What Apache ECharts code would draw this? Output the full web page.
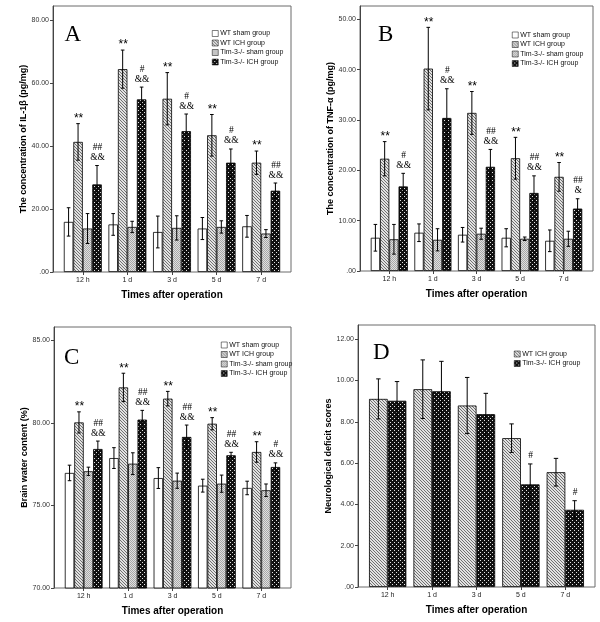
<!DOCTYPE html>
<html>
<head>
<meta charset="utf-8">
<script src="https://cdn.jsdelivr.net/npm/echarts@6/dist/echarts.min.js"></script>
<style>
html, body { margin: 0; padding: 0; background: #fff; }
#main { width: 600px; height: 622px; }
</style>
</head>
<body>
<div id="main"></div>
<script>
// categories
var times = ['12 h', '1 d', '3 d', '5 d', '7 d'];

// A: IL-1β (pg/mg), mean and SD
var aWtSham = [15.9, 15.1, 12.7, 13.8, 14.5];
var aWtShamSd = [4.5, 3.45, 5.05, 3.5, 3.45];
var aWtIch = [41.3, 64.4, 55.0, 43.4, 34.7];
var aWtIchSd = [5.8, 6.05, 8.3, 6.6, 3.7];
var aTimSham = [13.8, 14.3, 14.0, 14.3, 12.2];
var aTimShamSd = [4.75, 1.8, 3.85, 1.95, 1.25];
var aTimIch = [27.8, 54.8, 44.7, 34.7, 25.8];
var aTimIchSd = [6.0, 3.9, 5.45, 4.35, 2.45];
var aWtIchSig = ['**', '**', '**', '**', '**'];
var aTimIchSig = ['##\n&&', '#\n&&', '#\n&&', '#\n&&', '##\n&&'];
var aTicks = [0, 20, 40, 60, 80];

// B: TNF-α (pg/mg)
var bWtSham = [6.6, 7.6, 7.2, 6.6, 6.0];
var bWtShamSd = [2.65, 1.75, 1.45, 1.8, 2.15];
var bWtIch = [22.3, 40.2, 31.4, 22.4, 18.7];
var bWtIchSd = [3.4, 8.2, 4.25, 4.15, 2.85];
var bTimSham = [6.3, 6.2, 7.4, 6.4, 6.4];
var bTimShamSd = [2.95, 2.2, 1.1, 0.35, 1.5];
var bTimIch = [16.8, 30.4, 20.7, 15.5, 12.4];
var bTimIchSd = [2.6, 5.8, 3.45, 3.4, 1.95];
var bWtIchSig = ['**', '**', '**', '**', '**'];
var bTimIchSig = ['#\n&&', '#\n&&', '##\n&&', '##\n&&', '##\n&'];
var bTicks = [0, 10, 20, 30, 40, 50];

// C: brain water content (%)
var cWtSham = [76.97, 77.87, 76.66, 76.2, 76.06];
var cWtShamSd = [0.47, 0.63, 0.63, 0.39, 0.41];
var cWtIch = [80.03, 82.15, 81.47, 79.95, 78.24];
var cWtIchSd = [0.64, 0.86, 0.44, 0.37, 0.62];
var cTimSham = [77.07, 77.53, 76.5, 76.32, 75.92];
var cTimShamSd = [0.25, 0.66, 0.46, 0.52, 0.38];
var cTimIch = [78.42, 80.2, 79.15, 78.04, 77.33];
var cTimIchSd = [0.48, 0.56, 0.72, 0.18, 0.25];
var cWtIchSig = ['**', '**', '**', '**', '**'];
var cTimIchSig = ['##\n&&', '##\n&&', '##\n&&', '##\n&&', '#\n&&'];
var cTicks = [70, 75, 80, 85];

// D: neurological deficit scores
var dWtIch = [9.11, 9.58, 8.79, 7.21, 5.56];
var dWtIchSd = [0.97, 1.42, 1.36, 0.69, 0.67];
var dTimIch = [9.02, 9.48, 8.37, 4.97, 3.74];
var dTimIchSd = [0.93, 1.45, 1.01, 0.99, 0.44];
var dTimIchSig = ['', '', '', '#', '#'];
var dTicks = [0, 2, 4, 6, 8, 10, 12];

var NAME_WT_SHAM = 'WT sham group';
var NAME_WT_ICH = 'WT ICH group';
var NAME_TIM_SHAM = 'Tim-3-/- sham group';
var NAME_TIM_ICH = 'Tim-3-/- ICH group';

function makePattern(size, draw) {
	var c = document.createElement('canvas');
	c.width = size;
	c.height = size;
	draw(c.getContext('2d'));
	return { image: c, repeat: 'repeat' };
}
// diagonal hatch
var hatchFill = makePattern(3, function (ctx) {
	ctx.fillStyle = '#e2e2e2';
	ctx.fillRect(0, 0, 3, 3);
	ctx.fillStyle = '#707070';
	for (var i = 0; i < 3; i++) ctx.fillRect(i, i, 1, 1);
});
// light grey crosshatch
var greyFill = makePattern(2, function (ctx) {
	ctx.fillStyle = '#e0e0e0';
	ctx.fillRect(0, 0, 2, 2);
	ctx.fillStyle = '#a8a8a8';
	ctx.fillRect(0, 0, 1, 1);
	ctx.fillRect(1, 1, 1, 1);
});
// black with white dots
var dotFill = makePattern(4, function (ctx) {
	ctx.fillStyle = '#111';
	ctx.fillRect(0, 0, 4, 4);
	ctx.fillStyle = '#e4e4e4';
	ctx.fillRect(0, 0, 1, 1);
	ctx.fillRect(2, 2, 1, 1);
});

var panels = [
	{
		frame: { left: 53, top: 6, width: 238, height: 266 }, min: 0, max: 84.44, ticks: aTicks,
		yName: 'The concentration of IL-1\u03b2 (pg/mg)', yNameGap: 23, letter: 'A', lx: 64.5, ly: 23,
		legend: { left: 212, top: 30 }, gap: 0.15,
		groups: [
			{ name: NAME_WT_SHAM, data: aWtSham, sd: aWtShamSd, fill: '#fff' },
			{ name: NAME_WT_ICH, data: aWtIch, sd: aWtIchSd, fill: hatchFill, sig: aWtIchSig },
			{ name: NAME_TIM_SHAM, data: aTimSham, sd: aTimShamSd, fill: greyFill },
			{ name: NAME_TIM_ICH, data: aTimIch, sd: aTimIchSd, fill: dotFill, sig: aTimIchSig }
		]
	},
	{
		frame: { left: 360, top: 6, width: 233, height: 265 }, min: 0, max: 52.64, ticks: bTicks,
		yName: 'The concentration of TNF-\u03b1 (pg/mg)', yNameGap: 23, letter: 'B', lx: 378, ly: 23,
		legend: { left: 512, top: 31.5 }, gap: 0.15,
		groups: [
			{ name: NAME_WT_SHAM, data: bWtSham, sd: bWtShamSd, fill: '#fff' },
			{ name: NAME_WT_ICH, data: bWtIch, sd: bWtIchSd, fill: hatchFill, sig: bWtIchSig },
			{ name: NAME_TIM_SHAM, data: bTimSham, sd: bTimShamSd, fill: greyFill },
			{ name: NAME_TIM_ICH, data: bTimIch, sd: bTimIchSd, fill: dotFill, sig: bTimIchSig }
		]
	},
	{
		frame: { left: 54, top: 327, width: 237, height: 261 }, min: 70, max: 85.81, ticks: cTicks,
		yName: 'Brain water content (%)', yNameGap: 25, letter: 'C', lx: 64, ly: 346,
		legend: { left: 221, top: 341.5 }, gap: 0.15,
		groups: [
			{ name: NAME_WT_SHAM, data: cWtSham, sd: cWtShamSd, fill: '#fff' },
			{ name: NAME_WT_ICH, data: cWtIch, sd: cWtIchSd, fill: hatchFill, sig: cWtIchSig },
			{ name: NAME_TIM_SHAM, data: cTimSham, sd: cTimShamSd, fill: greyFill },
			{ name: NAME_TIM_ICH, data: cTimIch, sd: cTimIchSd, fill: dotFill, sig: cTimIchSig }
		]
	},
	{
		frame: { left: 358, top: 325, width: 237, height: 262 }, min: 0, max: 12.69, ticks: dTicks,
		yName: 'Neurological deficit scores', yNameGap: 25, letter: 'D', lx: 373, ly: 341,
		legend: { left: 514, top: 350.5 }, gap: 0.16,
		groups: [
			{ name: NAME_WT_ICH, data: dWtIch, sd: dWtIchSd, fill: hatchFill },
			{ name: NAME_TIM_ICH, data: dTimIch, sd: dTimIchSd, fill: dotFill, sig: dTimIchSig }
		]
	}
];

var PAD = 7.5;
var axisFont = 'Liberation Sans';

function fmtTick(v) {
	return v === 0 ? '.00' : v.toFixed(2);
}

function errRenderer(k, n, gapRatio, sig) {
	return function (params, api) {
		var i = api.value(0);
		var lo = api.coord([i, api.value(1)]);
		var hi = api.coord([i, api.value(2)]);
		var band = api.size([1, 0])[0];
		var bw = band * (1 - gapRatio) / n;
		var x = lo[0] + (k - (n - 1) / 2) * bw;
		var cap = n > 2 ? 1.8 : 2.2;
		var st = { stroke: '#000', lineWidth: 1 };
		var kids = [
			{ type: 'line', shape: { x1: x, y1: lo[1], x2: x, y2: hi[1] }, style: st },
			{ type: 'line', shape: { x1: x - cap, y1: hi[1], x2: x + cap, y2: hi[1] }, style: st },
			{ type: 'line', shape: { x1: x - cap, y1: lo[1], x2: x + cap, y2: lo[1] }, style: st }
		];
		var s = sig ? sig[params.dataIndex] : '';
		if (s) {
			var star = s.indexOf('*') >= 0;
			kids.push({
				type: 'text',
				style: {
					text: s, x: x + 0.5, y: star ? hi[1] + 1 : hi[1] - 3,
					align: 'center', verticalAlign: 'bottom',
					fontSize: star ? 12 : 9.5, lineHeight: star ? 12 : 10,
					fontFamily: star ? 'Liberation Sans' : 'Liberation Serif',
					fill: '#000'
				}
			});
		}
		return { type: 'group', children: kids };
	};
}

var grids = [], xAxes = [], yAxes = [], series = [], legends = [], graphics = [];

panels.forEach(function (p, pi) {
	var f = p.frame;
	grids.push({ left: f.left, top: f.top, width: f.width, height: f.height, show: true, borderColor: '#6a6a6a', borderWidth: 1 });
	grids.push({ left: f.left + PAD, top: f.top, width: f.width - 2 * PAD, height: f.height });

	xAxes.push({ type: 'value', gridIndex: 2 * pi, min: 0, max: 1, show: false });
	xAxes.push({
		type: 'category', gridIndex: 2 * pi + 1, data: times,
		axisLine: { show: false },
		axisTick: { show: true, alignWithLabel: true, length: 3, lineStyle: { color: '#444' } },
		axisLabel: { fontSize: 7, margin: 5, color: '#222', fontFamily: axisFont },
		name: 'Times after operation', nameLocation: 'middle', nameGap: 18,
		nameTextStyle: { fontSize: 10, fontWeight: 'bold', color: '#000', fontFamily: axisFont }
	});

	yAxes.push({
		type: 'value', gridIndex: 2 * pi, min: p.min, max: p.max,
		axisLine: { show: true, lineStyle: { color: '#444' } },
		axisTick: { show: true, length: 3, customValues: p.ticks, lineStyle: { color: '#444' } },
		axisLabel: { customValues: p.ticks, formatter: fmtTick, fontSize: 7, margin: 4, color: '#333', fontFamily: axisFont },
		splitLine: { show: false },
		name: p.yName, nameLocation: 'middle', nameGap: p.yNameGap,
		nameTextStyle: { fontSize: 9, fontWeight: 'bold', color: '#000', fontFamily: axisFont }
	});
	yAxes.push({ type: 'value', gridIndex: 2 * pi + 1, min: p.min, max: p.max, show: false, splitLine: { show: false } });

	var n = p.groups.length;
	p.groups.forEach(function (g, k) {
		series.push({
			type: 'bar', name: g.name, xAxisIndex: 2 * pi + 1, yAxisIndex: 2 * pi + 1,
			data: g.data, barGap: '0%', barCategoryGap: (p.gap * 100) + '%',
			itemStyle: { color: g.fill, borderColor: '#000', borderWidth: 0.8 },
			clip: true, silent: true
		});
	});
	p.groups.forEach(function (g, k) {
		series.push({
			type: 'custom', name: g.name + ' SD', xAxisIndex: 2 * pi + 1, yAxisIndex: 2 * pi + 1,
			data: g.data.map(function (m, i) { return [i, m - g.sd[i], m + g.sd[i]]; }),
			renderItem: errRenderer(k, n, p.gap, g.sig), z: 5, silent: true
		});
	});

	legends.push({
		left: p.legend.left, top: p.legend.top, orient: 'vertical', padding: 0,
		itemWidth: 6, itemHeight: 6, itemGap: 2.5, icon: 'rect', selectedMode: false,
		itemStyle: { borderWidth: 0.5, borderColor: '#000' },
		textStyle: { fontSize: 7, lineHeight: 7, color: '#111', fontFamily: axisFont, padding: [0, 0, 0, -3] },
		data: p.groups.map(function (g) { return g.name; })
	});

	graphics.push({
		type: 'text', left: p.lx, top: p.ly,
		style: { text: p.letter, fontSize: 23, fontFamily: 'Liberation Serif', fill: '#000' }
	});
});

var chart = echarts.init(document.getElementById('main'));
chart.setOption({
	animation: false,
	grid: grids,
	xAxis: xAxes,
	yAxis: yAxes,
	legend: legends,
	graphic: graphics,
	series: series
});
</script>
</body>
</html>
